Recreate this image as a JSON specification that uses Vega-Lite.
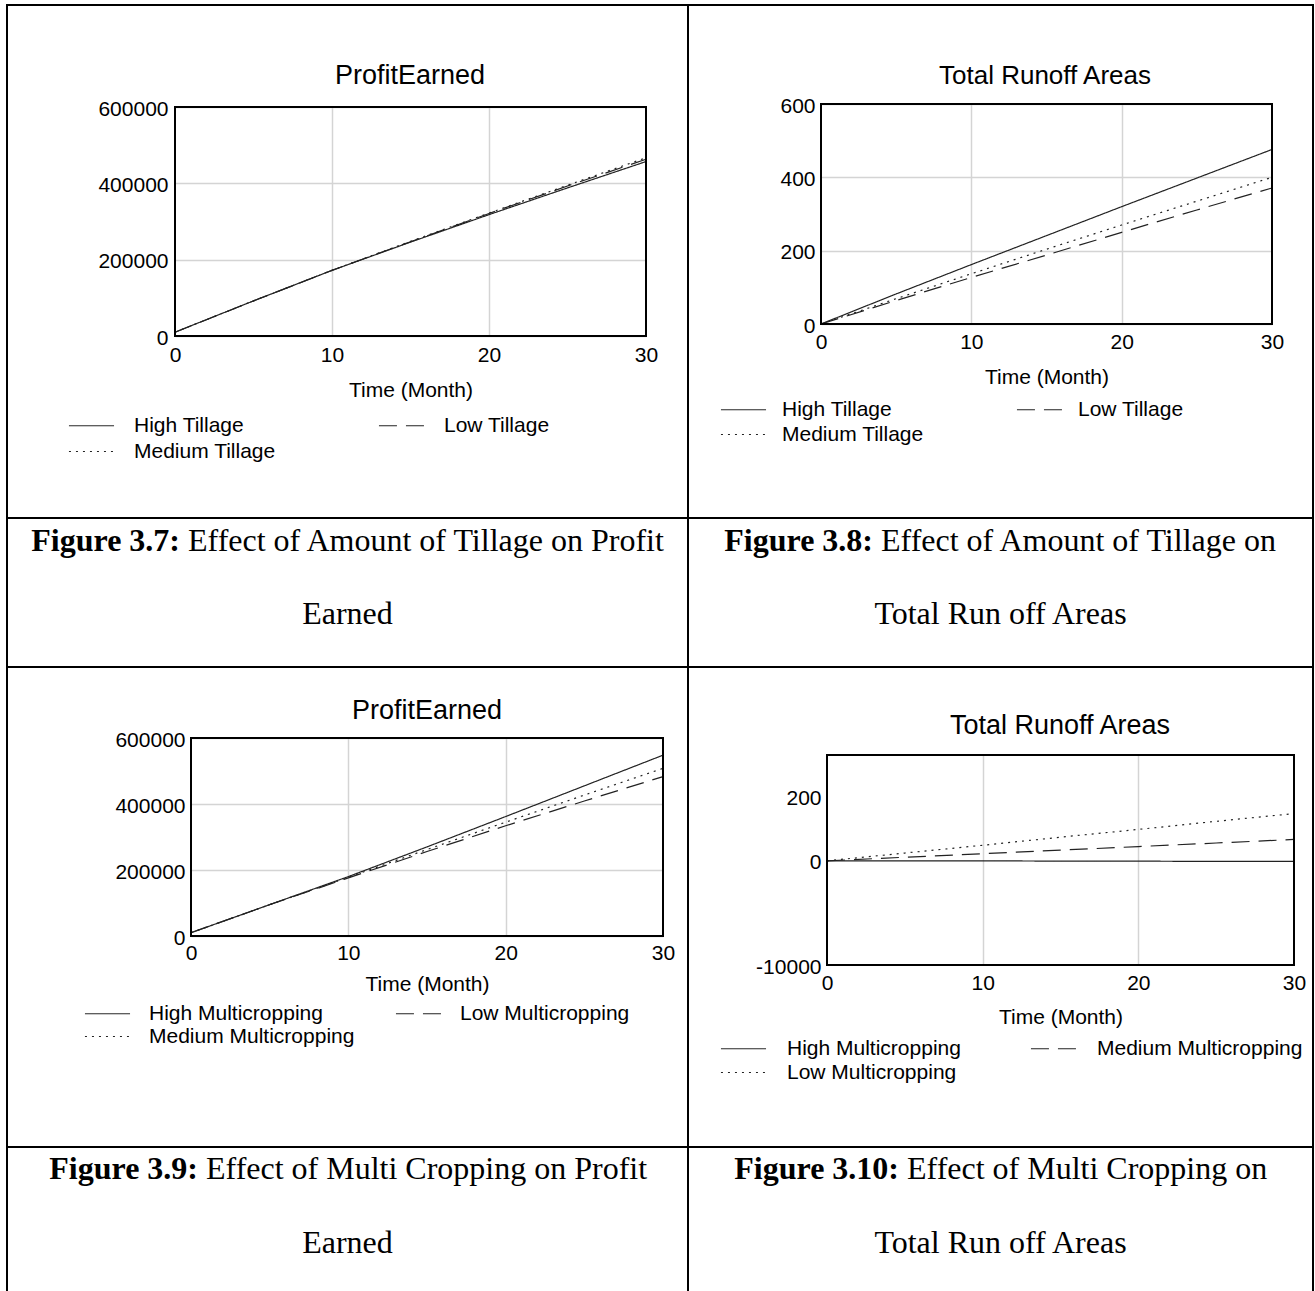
{
  "$schema": "https://vega.github.io/schema/vega-lite/v6.json",
  "padding": {"left": 6, "top": 4, "right": 0, "bottom": 0},
  "columns": 2,
  "spacing": 0,
  "bounds": "flush",
  "align": "each",
  "resolve": {"scale": {"strokeDash": "independent"}, "legend": {"strokeDash": "independent"}},
  "config": {
    "view": {"stroke": "black", "strokeWidth": 2},
    "font": "Liberation Sans",
    "axis": {"labelFont": "Liberation Sans", "labelFontSize": 21, "labelColor": "black", "titleFont": "Liberation Sans", "titleFontSize": 21, "titleFontWeight": "normal", "titleColor": "black", "gridColor": "#d4d4d4", "gridWidth": 1.5, "gridOpacity": 1, "labelOverlap": false},
    "axisY": {"labelOffset": 2},
    "legend": {"labelFont": "Liberation Sans", "labelFontSize": 21, "labelColor": "black", "symbolStrokeColor": "#222", "symbolStrokeWidth": 1, "padding": 0, "labelLimit": 400, "symbolType": "M-4,0H4", "symbolSize": 127, "symbolOffset": 17, "labelOffset": 33, "direction": "horizontal"},
    "title": {"font": "Liberation Sans", "fontWeight": "normal", "color": "black"}
  },
  "concat": [
    {
      "width": 681, "height": 513,
      "title": {"text": "ProfitEarned", "anchor": "middle", "frame": "group", "offset": -85, "dx": 62.5, "fontSize": 27},
      "layer": [
        {
          "data": {"values": [
            {"s": "High Tillage", "t": 0, "v": 10000}, {"s": "High Tillage", "t": 5, "v": 92000}, {"s": "High Tillage", "t": 10, "v": 172000}, {"s": "High Tillage", "t": 15, "v": 246000}, {"s": "High Tillage", "t": 20, "v": 318000}, {"s": "High Tillage", "t": 25, "v": 388000}, {"s": "High Tillage", "t": 30, "v": 457000},
            {"s": "Low Tillage", "t": 0, "v": 10000}, {"s": "Low Tillage", "t": 5, "v": 92000}, {"s": "Low Tillage", "t": 10, "v": 172000}, {"s": "Low Tillage", "t": 15, "v": 247000}, {"s": "Low Tillage", "t": 20, "v": 321000}, {"s": "Low Tillage", "t": 25, "v": 393000}, {"s": "Low Tillage", "t": 30, "v": 463000},
            {"s": "Medium Tillage", "t": 0, "v": 10000}, {"s": "Medium Tillage", "t": 5, "v": 92000}, {"s": "Medium Tillage", "t": 10, "v": 172000}, {"s": "Medium Tillage", "t": 15, "v": 248000}, {"s": "Medium Tillage", "t": 20, "v": 322000}, {"s": "Medium Tillage", "t": 25, "v": 395000}, {"s": "Medium Tillage", "t": 30, "v": 467000}
          ]},
          "mark": {"type": "line", "stroke": "#222", "strokeWidth": 1.2},
          "encoding": {
            "x": {"field": "t", "type": "quantitative", "scale": {"domain": [0, 30], "range": [168, 639], "nice": false, "zero": false},
                  "axis": {"orient": "bottom", "offset": -182, "values": [0, 10, 20, 30], "format": "d", "grid": false, "domain": false, "ticks": false, "tickSize": 0, "labelPadding": 8, "labelFlush": false, "title": "Time (Month)", "titlePadding": 14}},
            "y": {"field": "v", "type": "quantitative", "scale": {"domain": [0, 600000], "range": [331, 102], "nice": false},
                  "axis": {"orient": "left", "offset": -168, "values": [0, 200000, 400000, 600000], "format": "d", "grid": true, "domain": false, "ticks": false, "tickSize": 0, "labelPadding": 7, "title": null}},
            "strokeDash": {"field": "s", "type": "nominal", "scale": {"domain": ["High Tillage", "Low Tillage", "Medium Tillage"], "range": [[1, 0], [18, 9], [2, 5]]},
                  "legend": {"orient": "none", "legendX": 57, "legendY": 410, "columns": 2, "columnPadding": 98, "rowPadding": 4, "labelOffset": 32, "title": null}}
          }
        },
        {
          "data": {"values": [{}]},
          "mark": {"type": "rect", "filled": false, "stroke": "black", "strokeWidth": 2},
          "encoding": {
            "x": {"datum": 0, "type": "quantitative", "scale": {"domain": [0, 30], "range": [168, 639], "nice": false, "zero": false},
                  "axis": {"orient": "top", "values": [10, 20], "grid": true, "labels": false, "ticks": false, "domain": false, "title": null}},
            "x2": {"datum": 30},
            "y": {"datum": 0, "type": "quantitative", "scale": {"domain": [0, 600000], "range": [331, 102], "nice": false},
                  "axis": {"orient": "left", "offset": -168, "values": [0, 200000, 400000, 600000], "format": "d", "grid": true, "domain": false, "ticks": false, "tickSize": 0, "labelPadding": 7, "title": null}},
            "y2": {"datum": 600000}
          }
        }
      ]
    },
    {
      "width": 625, "height": 513,
      "title": {"text": "Total Runoff Areas", "anchor": "middle", "frame": "group", "offset": -84, "dx": 44.5, "fontSize": 26},
      "layer": [
        {
          "data": {"values": [
            {"s": "High Tillage", "t": 0, "v": 0}, {"s": "High Tillage", "t": 5, "v": 82}, {"s": "High Tillage", "t": 10, "v": 162}, {"s": "High Tillage", "t": 15, "v": 241}, {"s": "High Tillage", "t": 20, "v": 320}, {"s": "High Tillage", "t": 25, "v": 398}, {"s": "High Tillage", "t": 30, "v": 476},
            {"s": "Low Tillage", "t": 0, "v": 0}, {"s": "Low Tillage", "t": 5, "v": 64}, {"s": "Low Tillage", "t": 10, "v": 127}, {"s": "Low Tillage", "t": 15, "v": 188}, {"s": "Low Tillage", "t": 20, "v": 250}, {"s": "Low Tillage", "t": 25, "v": 311}, {"s": "Low Tillage", "t": 30, "v": 371},
            {"s": "Medium Tillage", "t": 0, "v": 0}, {"s": "Medium Tillage", "t": 5, "v": 69}, {"s": "Medium Tillage", "t": 10, "v": 137}, {"s": "Medium Tillage", "t": 15, "v": 204}, {"s": "Medium Tillage", "t": 20, "v": 270}, {"s": "Medium Tillage", "t": 25, "v": 335}, {"s": "Medium Tillage", "t": 30, "v": 400}
          ]},
          "mark": {"type": "line", "stroke": "#222", "strokeWidth": 1.2},
          "encoding": {
            "x": {"field": "t", "type": "quantitative", "scale": {"domain": [0, 30], "range": [133, 584], "nice": false, "zero": false},
                  "axis": {"orient": "bottom", "offset": -194, "values": [0, 10, 20, 30], "format": "d", "grid": false, "domain": false, "ticks": false, "tickSize": 0, "labelPadding": 7, "labelFlush": false, "title": "Time (Month)", "titlePadding": 14}},
            "y": {"field": "v", "type": "quantitative", "scale": {"domain": [0, 600], "range": [319, 99], "nice": false},
                  "axis": {"orient": "left", "offset": -133, "values": [0, 200, 400, 600], "format": "d", "grid": true, "domain": false, "ticks": false, "tickSize": 0, "labelPadding": 6, "title": null}},
            "strokeDash": {"field": "s", "type": "nominal", "scale": {"domain": ["High Tillage", "Low Tillage", "Medium Tillage"], "range": [[1, 0], [18, 9], [2, 5]]},
                  "legend": {"orient": "none", "legendX": 28, "legendY": 394, "columns": 2, "columnPadding": 88, "rowPadding": 3, "labelOffset": 28, "title": null}}
          }
        },
        {
          "data": {"values": [{}]},
          "mark": {"type": "rect", "filled": false, "stroke": "black", "strokeWidth": 2},
          "encoding": {
            "x": {"datum": 0, "type": "quantitative", "scale": {"domain": [0, 30], "range": [133, 584], "nice": false, "zero": false},
                  "axis": {"orient": "top", "values": [10, 20], "grid": true, "labels": false, "ticks": false, "domain": false, "title": null}},
            "x2": {"datum": 30},
            "y": {"datum": 0, "type": "quantitative", "scale": {"domain": [0, 600], "range": [319, 99], "nice": false},
                  "axis": {"orient": "left", "offset": -133, "values": [0, 200, 400, 600], "format": "d", "grid": true, "domain": false, "ticks": false, "tickSize": 0, "labelPadding": 6, "title": null}},
            "y2": {"datum": 600}
          }
        }
      ]
    },
    {
      "width": 681, "height": 149,
      "layer": [
        {"data": {"values": [{"line": 1, "t": "Figure 3.7:"}]}, "mark": {"type": "text", "font": "Liberation Serif", "fontSize": 32, "fontWeight": "bold", "align": "right", "baseline": "middle", "dx": -167.5, "color": "black"},
         "encoding": {"y": {"field": "line", "type": "quantitative", "scale": {"domain": [1, 2], "range": [23, 96]}, "axis": null}, "text": {"field": "t"}}},
        {"data": {"values": [{"line": 1, "t": "Effect of Amount of Tillage on Profit"}]}, "mark": {"type": "text", "font": "Liberation Serif", "fontSize": 32, "align": "left", "baseline": "middle", "dx": -159.5, "color": "black"},
         "encoding": {"y": {"field": "line", "type": "quantitative", "scale": {"domain": [1, 2], "range": [23, 96]}, "axis": null}, "text": {"field": "t"}}},
        {"data": {"values": [{"line": 2, "t": "Earned"}]}, "mark": {"type": "text", "font": "Liberation Serif", "fontSize": 32, "align": "center", "baseline": "middle", "color": "black"},
         "encoding": {"y": {"field": "line", "type": "quantitative", "scale": {"domain": [1, 2], "range": [23, 96]}, "axis": null}, "text": {"field": "t"}}}
      ]
    },
    {
      "width": 625, "height": 149,
      "layer": [
        {"data": {"values": [{"line": 1, "t": "Figure 3.8:"}]}, "mark": {"type": "text", "font": "Liberation Serif", "fontSize": 32, "fontWeight": "bold", "align": "right", "baseline": "middle", "dx": -127.5, "color": "black"},
         "encoding": {"y": {"field": "line", "type": "quantitative", "scale": {"domain": [1, 2], "range": [23, 96]}, "axis": null}, "text": {"field": "t"}}},
        {"data": {"values": [{"line": 1, "t": "Effect of Amount of Tillage on"}]}, "mark": {"type": "text", "font": "Liberation Serif", "fontSize": 32, "align": "left", "baseline": "middle", "dx": -119.5, "color": "black"},
         "encoding": {"y": {"field": "line", "type": "quantitative", "scale": {"domain": [1, 2], "range": [23, 96]}, "axis": null}, "text": {"field": "t"}}},
        {"data": {"values": [{"line": 2, "t": "Total Run off Areas"}]}, "mark": {"type": "text", "font": "Liberation Serif", "fontSize": 32, "align": "center", "baseline": "middle", "color": "black"},
         "encoding": {"y": {"field": "line", "type": "quantitative", "scale": {"domain": [1, 2], "range": [23, 96]}, "axis": null}, "text": {"field": "t"}}}
      ]
    },
    {
      "width": 681, "height": 480,
      "title": {"text": "ProfitEarned", "anchor": "middle", "frame": "group", "offset": -58, "dx": 79.5, "fontSize": 27},
      "layer": [
        {
          "data": {"values": [
            {"s": "High Multicropping", "t": 0, "v": 10000}, {"s": "High Multicropping", "t": 5, "v": 95000}, {"s": "High Multicropping", "t": 10, "v": 180000}, {"s": "High Multicropping", "t": 15, "v": 270000}, {"s": "High Multicropping", "t": 20, "v": 362000}, {"s": "High Multicropping", "t": 25, "v": 455000}, {"s": "High Multicropping", "t": 30, "v": 548000},
            {"s": "Low Multicropping", "t": 0, "v": 10000}, {"s": "Low Multicropping", "t": 5, "v": 95000}, {"s": "Low Multicropping", "t": 10, "v": 176000}, {"s": "Low Multicropping", "t": 15, "v": 256000}, {"s": "Low Multicropping", "t": 20, "v": 334000}, {"s": "Low Multicropping", "t": 25, "v": 409000}, {"s": "Low Multicropping", "t": 30, "v": 483000},
            {"s": "Medium Multicropping", "t": 0, "v": 10000}, {"s": "Medium Multicropping", "t": 5, "v": 95000}, {"s": "Medium Multicropping", "t": 10, "v": 178000}, {"s": "Medium Multicropping", "t": 15, "v": 262000}, {"s": "Medium Multicropping", "t": 20, "v": 345000}, {"s": "Medium Multicropping", "t": 25, "v": 427000}, {"s": "Medium Multicropping", "t": 30, "v": 508000}
          ]},
          "mark": {"type": "line", "stroke": "#222", "strokeWidth": 1.2},
          "encoding": {
            "x": {"field": "t", "type": "quantitative", "scale": {"domain": [0, 30], "range": [184, 656], "nice": false, "zero": false},
                  "axis": {"orient": "bottom", "offset": -211, "values": [0, 10, 20, 30], "format": "d", "grid": false, "domain": false, "ticks": false, "tickSize": 0, "labelPadding": 6, "labelFlush": false, "title": "Time (Month)", "titlePadding": 10}},
            "y": {"field": "v", "type": "quantitative", "scale": {"domain": [0, 600000], "range": [269, 71], "nice": false},
                  "axis": {"orient": "left", "offset": -184, "values": [0, 200000, 400000, 600000], "format": "d", "grid": true, "domain": false, "ticks": false, "tickSize": 0, "labelPadding": 6, "title": null}},
            "strokeDash": {"field": "s", "type": "nominal", "scale": {"domain": ["High Multicropping", "Low Multicropping", "Medium Multicropping"], "range": [[1, 0], [18, 9], [2, 5]]},
                  "legend": {"orient": "none", "legendX": 73, "legendY": 336, "columns": 2, "columnPadding": 36, "rowPadding": 1, "labelOffset": 31, "title": null}}
          }
        },
        {
          "data": {"values": [{}]},
          "mark": {"type": "rect", "filled": false, "stroke": "black", "strokeWidth": 2},
          "encoding": {
            "x": {"datum": 0, "type": "quantitative", "scale": {"domain": [0, 30], "range": [184, 656], "nice": false, "zero": false},
                  "axis": {"orient": "top", "values": [10, 20], "grid": true, "labels": false, "ticks": false, "domain": false, "title": null}},
            "x2": {"datum": 30},
            "y": {"datum": 0, "type": "quantitative", "scale": {"domain": [0, 600000], "range": [269, 71], "nice": false},
                  "axis": {"orient": "left", "offset": -184, "values": [0, 200000, 400000, 600000], "format": "d", "grid": true, "domain": false, "ticks": false, "tickSize": 0, "labelPadding": 6, "title": null}},
            "y2": {"datum": 600000}
          }
        }
      ]
    },
    {
      "width": 625, "height": 480,
      "title": {"text": "Total Runoff Areas", "anchor": "middle", "frame": "group", "offset": -73, "dx": 59.5, "fontSize": 27},
      "layer": [
        {
          "data": {"values": [
            {"s": "High Multicropping", "t": 0, "v": 0}, {"s": "High Multicropping", "t": 5, "v": 0}, {"s": "High Multicropping", "t": 10, "v": 0}, {"s": "High Multicropping", "t": 15, "v": -1}, {"s": "High Multicropping", "t": 20, "v": -1}, {"s": "High Multicropping", "t": 25, "v": -2}, {"s": "High Multicropping", "t": 30, "v": -2},
            {"s": "Medium Multicropping", "t": 0, "v": 0}, {"s": "Medium Multicropping", "t": 5, "v": 11}, {"s": "Medium Multicropping", "t": 10, "v": 22}, {"s": "Medium Multicropping", "t": 15, "v": 33}, {"s": "Medium Multicropping", "t": 20, "v": 44}, {"s": "Medium Multicropping", "t": 25, "v": 55}, {"s": "Medium Multicropping", "t": 30, "v": 66},
            {"s": "Low Multicropping", "t": 0, "v": 0}, {"s": "Low Multicropping", "t": 5, "v": 24}, {"s": "Low Multicropping", "t": 10, "v": 48}, {"s": "Low Multicropping", "t": 15, "v": 73}, {"s": "Low Multicropping", "t": 20, "v": 97}, {"s": "Low Multicropping", "t": 25, "v": 122}, {"s": "Low Multicropping", "t": 30, "v": 146}
          ]},
          "mark": {"type": "line", "stroke": "#222", "strokeWidth": 1.2},
          "encoding": {
            "x": {"field": "t", "type": "quantitative", "scale": {"domain": [0, 30], "range": [139, 606], "nice": false, "zero": false},
                  "axis": {"orient": "bottom", "offset": -182, "values": [0, 10, 20, 30], "format": "d", "grid": false, "domain": false, "ticks": false, "tickSize": 0, "labelPadding": 7, "labelFlush": false, "title": "Time (Month)", "titlePadding": 13}},
            "y": {"field": "v", "type": "quantitative", "scale": {"domain": [-322, 327], "range": [298, 88], "nice": false, "zero": false},
                  "axis": {"orient": "left", "offset": -139, "values": [-322, 0, 200], "labelExpr": "datum.value < -300 ? '-10000' : datum.label", "format": "d", "grid": false, "domain": false, "ticks": false, "tickSize": 0, "labelPadding": 6, "title": null}},
            "strokeDash": {"field": "s", "type": "nominal", "scale": {"domain": ["High Multicropping", "Medium Multicropping", "Low Multicropping"], "range": [[1, 0], [18, 9], [2, 5]]},
                  "legend": {"orient": "none", "legendX": 28, "legendY": 371, "columns": 2, "columnPadding": 65, "rowPadding": 2, "title": null}}
          }
        },
        {
          "data": {"values": [{}]},
          "mark": {"type": "rect", "filled": false, "stroke": "black", "strokeWidth": 2},
          "encoding": {
            "x": {"datum": 0, "type": "quantitative", "scale": {"domain": [0, 30], "range": [139, 606], "nice": false, "zero": false},
                  "axis": {"orient": "top", "values": [10, 20], "grid": true, "labels": false, "ticks": false, "domain": false, "title": null}},
            "x2": {"datum": 30},
            "y": {"datum": -322, "type": "quantitative", "scale": {"domain": [-322, 327], "range": [298, 88], "nice": false, "zero": false},
                  "axis": {"orient": "left", "offset": -139, "values": [-322, 0, 200], "labelExpr": "datum.value < -300 ? '-10000' : datum.label", "format": "d", "grid": false, "domain": false, "ticks": false, "tickSize": 0, "labelPadding": 6, "title": null}},
            "y2": {"datum": 327}
          }
        }
      ]
    },
    {
      "width": 681, "height": 146,
      "layer": [
        {"data": {"values": [{"line": 1, "t": "Figure 3.9:"}]}, "mark": {"type": "text", "font": "Liberation Serif", "fontSize": 32, "fontWeight": "bold", "align": "right", "baseline": "middle", "dx": -149.5, "color": "black"},
         "encoding": {"y": {"field": "line", "type": "quantitative", "scale": {"domain": [1, 2], "range": [22, 96]}, "axis": null}, "text": {"field": "t"}}},
        {"data": {"values": [{"line": 1, "t": "Effect of Multi Cropping on Profit"}]}, "mark": {"type": "text", "font": "Liberation Serif", "fontSize": 32, "align": "left", "baseline": "middle", "dx": -141.5, "color": "black"},
         "encoding": {"y": {"field": "line", "type": "quantitative", "scale": {"domain": [1, 2], "range": [22, 96]}, "axis": null}, "text": {"field": "t"}}},
        {"data": {"values": [{"line": 2, "t": "Earned"}]}, "mark": {"type": "text", "font": "Liberation Serif", "fontSize": 32, "align": "center", "baseline": "middle", "color": "black"},
         "encoding": {"y": {"field": "line", "type": "quantitative", "scale": {"domain": [1, 2], "range": [22, 96]}, "axis": null}, "text": {"field": "t"}}}
      ]
    },
    {
      "width": 625, "height": 146,
      "layer": [
        {"data": {"values": [{"line": 1, "t": "Figure 3.10:"}]}, "mark": {"type": "text", "font": "Liberation Serif", "fontSize": 32, "fontWeight": "bold", "align": "right", "baseline": "middle", "dx": -101.5, "color": "black"},
         "encoding": {"y": {"field": "line", "type": "quantitative", "scale": {"domain": [1, 2], "range": [22, 96]}, "axis": null}, "text": {"field": "t"}}},
        {"data": {"values": [{"line": 1, "t": "Effect of Multi Cropping on"}]}, "mark": {"type": "text", "font": "Liberation Serif", "fontSize": 32, "align": "left", "baseline": "middle", "dx": -93.5, "color": "black"},
         "encoding": {"y": {"field": "line", "type": "quantitative", "scale": {"domain": [1, 2], "range": [22, 96]}, "axis": null}, "text": {"field": "t"}}},
        {"data": {"values": [{"line": 2, "t": "Total Run off Areas"}]}, "mark": {"type": "text", "font": "Liberation Serif", "fontSize": 32, "align": "center", "baseline": "middle", "color": "black"},
         "encoding": {"y": {"field": "line", "type": "quantitative", "scale": {"domain": [1, 2], "range": [22, 96]}, "axis": null}, "text": {"field": "t"}}}
      ]
    }
  ]
}
